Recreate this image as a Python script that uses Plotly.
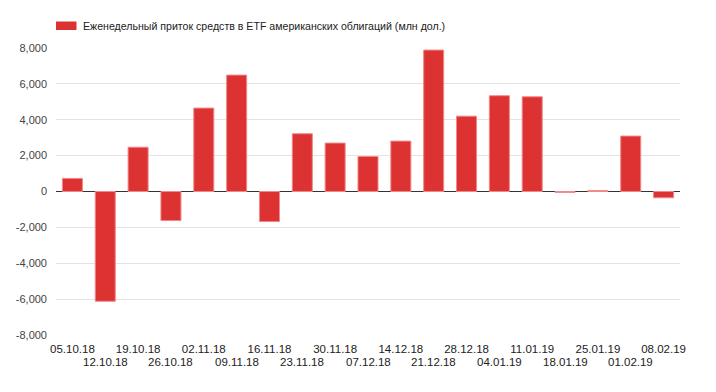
import plotly.graph_objects as go

dates = ["05.10.18", "12.10.18", "19.10.18", "26.10.18", "02.11.18", "09.11.18",
         "16.11.18", "23.11.18", "30.11.18", "07.12.18", "14.12.18", "21.12.18",
         "28.12.18", "04.01.19", "11.01.19", "18.01.19", "25.01.19", "01.02.19",
         "08.02.19"]
flows = [730, -6120, 2470, -1620, 4650, 6490, -1675, 3220, 2700, 1950, 2810,
         7885, 4200, 5340, 5280, -50, 50, 3090, -350]
series_name = "Еженедельный приток средств в ETF американских облигаций (млн дол.)"
y_ticks = [-8000, -6000, -4000, -2000, 0, 2000, 4000, 6000, 8000]

# page is offset by the browser's default 8px body margin
OFF = 8
W, H = 716 - 2 * OFF, 392 - 2 * OFF
L, R, T, B = 56 - OFF, 716 - 680 - OFF, 48 - OFF, 392 - 335 - OFF
pw, ph = W - L - R, H - T - B

def px(x):
    return (x - OFF - L) / pw

def py(y):
    return (H - B - (y - OFF)) / ph

top_text = [d if i % 2 == 0 else "" for i, d in enumerate(dates)]

fig = go.Figure()
fig.add_trace(go.Bar(
    x=dates, y=flows, name=series_name,
    marker=dict(color="#dc3232", line=dict(color="#f08a8a", width=1)),
    showlegend=False,
))

for i, d in enumerate(dates):
    if i % 2 == 1:
        fig.add_annotation(xref="x", yref="paper", x=d, y=py(361.5),
                           xanchor="center", yanchor="middle", showarrow=False,
                           text=d, font=dict(size=11.5, color="#222"))

fig.add_shape(type="rect", xref="paper", yref="paper",
              x0=px(56), x1=px(76.5), y0=py(30), y1=py(21.5),
              fillcolor="#dc3232", line=dict(width=0))
fig.add_annotation(xref="paper", yref="paper", x=px(81), y=py(25.8),
                   xanchor="left", yanchor="middle", showarrow=False,
                   text=series_name,
                   font=dict(size=10.6, color="#222"))

fig.update_layout(
    width=W, height=H,
    margin=dict(l=L, r=R, t=T, b=B, autoexpand=False),
    paper_bgcolor="white", plot_bgcolor="white",
    bargap=0.39,
    font=dict(family="Liberation Sans, Arial", size=11, color="#444"),
    xaxis=dict(tickmode="array", tickvals=dates, ticktext=top_text,
               showgrid=False, showline=False, ticks="", tickangle=0,
               ticklabelstandoff=5,
               tickfont=dict(size=11.5, color="#222")),
    yaxis=dict(range=[-8000, 8000], tickvals=y_ticks,
               ticktext=[f"{v:,}" for v in y_ticks],
               showgrid=True, gridcolor="#e3e3e3", gridwidth=1,
               zeroline=True, zerolinecolor="#333", zerolinewidth=1,
               ticklabelstandoff=8,
               tickfont=dict(size=11, color="#444"), ticks="", ticklen=0),
)
fig.write_html("out.html")
